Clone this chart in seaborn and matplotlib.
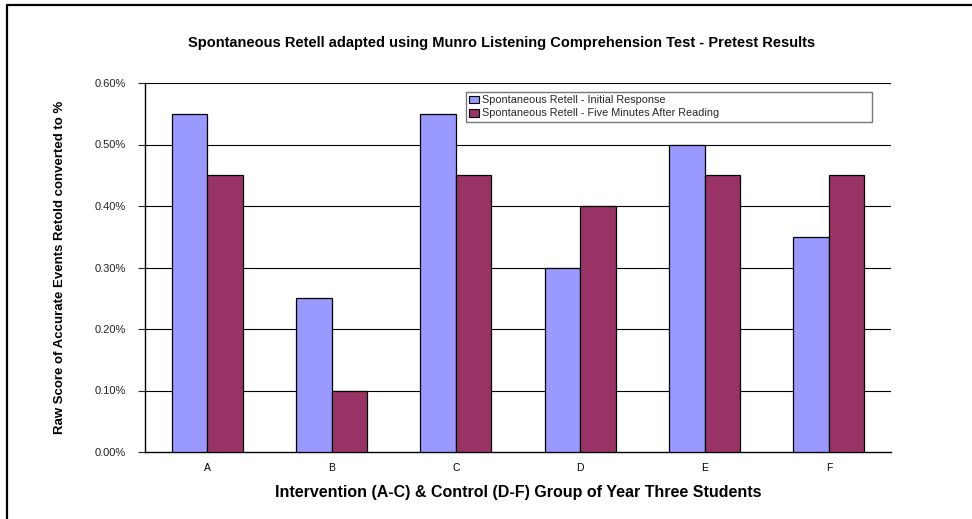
import matplotlib
matplotlib.use("Agg")
import matplotlib.pyplot as plt
from matplotlib.lines import Line2D
from matplotlib.ticker import FixedLocator, FuncFormatter
import seaborn as sns
import pandas as pd

# Data
groups = ["A", "B", "C", "D", "E", "F"]
initial_response = [0.55, 0.25, 0.55, 0.30, 0.50, 0.35]
five_minutes_after = [0.45, 0.10, 0.45, 0.40, 0.45, 0.45]
series_names = ["Spontaneous Retell - Initial Response",
                "Spontaneous Retell - Five Minutes After Reading"]
y_ticks = [0.0, 0.1, 0.2, 0.3, 0.4, 0.5, 0.6]

title = "Spontaneous Retell adapted using Munro Listening Comprehension Test - Pretest Results"
x_label = "Intervention (A-C) & Control (D-F) Group of Year Three Students"
y_label = "Raw Score of Accurate Events Retold converted to %"

df = pd.DataFrame({
    "group": groups * 2,
    "value": initial_response + five_minutes_after,
    "series": [series_names[0]] * len(groups) + [series_names[1]] * len(groups),
})

sns.set_theme(style="white")
plt.rcParams["font.family"] = ["Liberation Sans", "DejaVu Sans"]

fig = plt.figure(figsize=(9.72, 5.19), dpi=100)
ax = fig.add_axes([145 / 972, 1 - 452 / 519, (891 - 145) / 972, (452 - 83) / 519])

sns.barplot(data=df, x="group", y="value", hue="series", order=groups,
            hue_order=series_names, palette=["#9999FF", "#993366"],
            width=2 / 3.5, gap=0, edgecolor="black", linewidth=0.9,
            saturation=1, errorbar=None, ax=ax, zorder=3)

ax.set_xlim(-0.5, len(groups) - 0.5)
ax.set_ylim(0, 0.6)
ax.yaxis.set_major_locator(FixedLocator(y_ticks))
ax.yaxis.set_major_formatter(FuncFormatter(lambda v, p: f"{v:.2f}%"))
for yv in y_ticks[1:]:
    ax.axhline(yv, color="black", linewidth=0.8, zorder=1)

for side in ("top", "right"):
    ax.spines[side].set_visible(False)
for side in ("left", "bottom"):
    ax.spines[side].set_color("black")
    ax.spines[side].set_linewidth(1.0)

ax.set_xticks(range(len(groups)))
ax.set_xticklabels(groups)
ax.set_xticks([i - 0.5 for i in range(len(groups) + 1)], minor=True)
ax.tick_params(axis="x", which="major", length=0, pad=8, labelsize=7.5, colors="black")
ax.tick_params(axis="x", which="minor", length=5, width=0.8, direction="out", color="black")
ax.tick_params(axis="y", which="major", length=5, width=0.8, direction="out",
               pad=9, labelsize=8, colors="#222222", left=True)

ax.set_xlabel("")
ax.set_ylabel("")

fig.text(0.516, 1 - 43 / 519, title, ha="center", va="center",
         fontsize=10.5, fontweight="bold", color="black")
fig.text(0.533, 1 - 492 / 519, x_label, ha="center", va="center",
         fontsize=11.5, fontweight="bold", color="black")
fig.text(60 / 972, 1 - 267 / 519, y_label, ha="center", va="center",
         rotation=90, fontsize=9.5, fontweight="bold", color="black")

leg = ax.legend(loc="upper left",
                bbox_to_anchor=(466 / 972, 1 - 126 / 519, 406 / 972, 34 / 519),
                bbox_transform=fig.transFigure, mode="expand",
                frameon=True, fancybox=False, fontsize=7.8,
                handlelength=0.9, handleheight=0.7, handletextpad=0.3,
                borderpad=0.3, labelspacing=0.3, borderaxespad=0)
leg.get_frame().set_edgecolor("#555555")
leg.get_frame().set_linewidth(1.0)
for h in leg.legend_handles:
    h.set_edgecolor("black")
    h.set_linewidth(0.8)

# Outer chart border (top and left edges)
fig.add_artist(Line2D([7 / 972, 1.0], [1 - 5 / 519, 1 - 5 / 519],
                      transform=fig.transFigure, color="black", linewidth=1.6))
fig.add_artist(Line2D([7 / 972, 7 / 972], [0.0, 1 - 5 / 519],
                      transform=fig.transFigure, color="black", linewidth=1.6))

fig.savefig("out.png", dpi=100, facecolor="white")
